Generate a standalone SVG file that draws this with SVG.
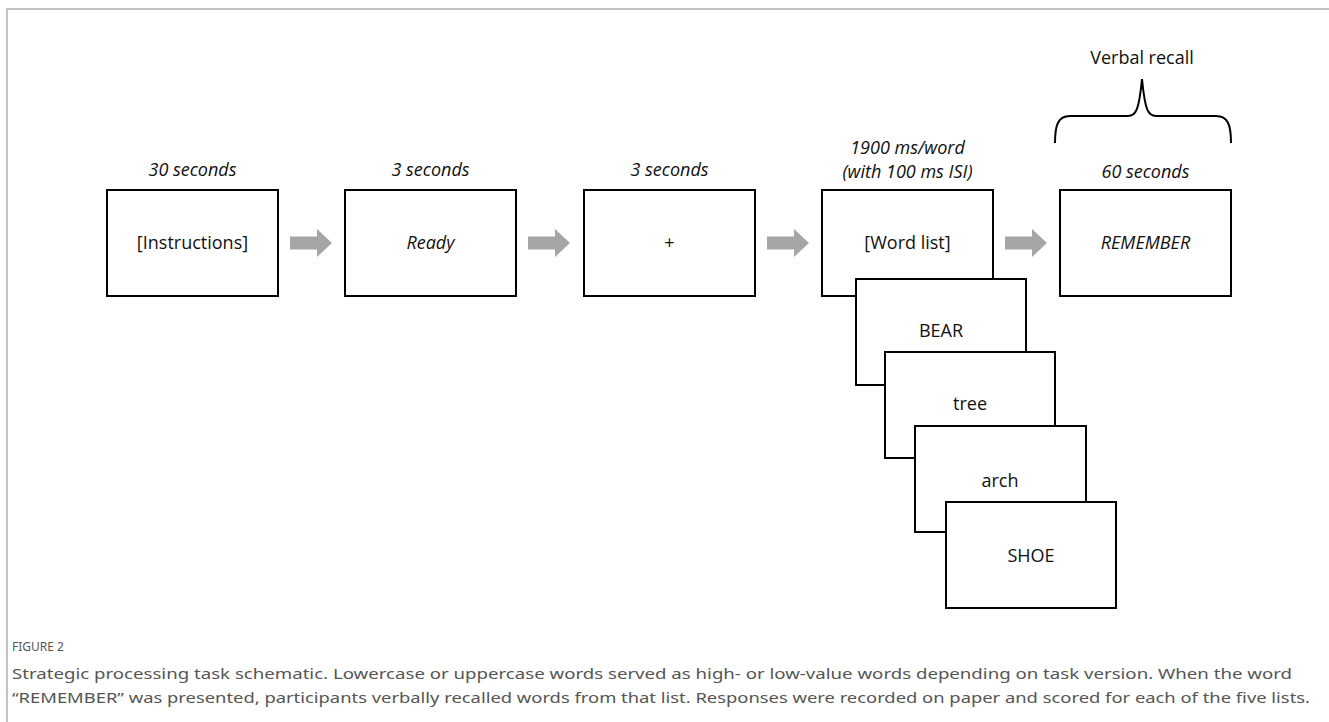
<svg xmlns="http://www.w3.org/2000/svg" width="1329" height="722" viewBox="0 0 1329 722">
<style>
.box{fill:#fff;stroke:#000;stroke-width:2}
.t{font-family:"Open Sans","Noto Sans",sans-serif;font-size:18px;fill:#111;text-anchor:middle}
.i{font-style:italic}
.arrow{fill:#a6a6a6}
.cap{font-family:"Noto Sans","Liberation Sans",sans-serif;fill:#555}
</style>
<rect width="1329" height="722" fill="#fff"/>
<path d="M7,722 V9 H1329" fill="none" stroke="#b0b0b0" stroke-width="1.5"/>
<defs>
<path id="arr" d="M0,-6.5 H27 V-14 L42,0 L27,14 V6.5 H0 Z"/>
</defs>
<g id="connectors">
<use href="#arr" class="arrow" x="290" y="243"/>
<use href="#arr" class="arrow" x="528" y="243"/>
<use href="#arr" class="arrow" x="767" y="243"/>
<use href="#arr" class="arrow" x="1005" y="243"/>
</g>
<g id="instructions">
<text class="t i" x="192.5" y="176">30 seconds</text>
<rect class="box" x="107" y="190" width="171" height="106"/>
<text class="t" x="192.5" y="249">[Instructions]</text>
</g>
<g id="ready">
<text class="t i" x="430.5" y="176">3 seconds</text>
<rect class="box" x="345" y="190" width="171" height="106"/>
<text class="t i" x="430.5" y="249">Ready</text>
</g>
<g id="fixation">
<text class="t i" x="669.5" y="176">3 seconds</text>
<rect class="box" x="584" y="190" width="171" height="106"/>
<text class="t" x="669.5" y="249">+</text>
</g>
<g id="wordlist">
<text class="t i" x="907.5" y="154">1900 ms/word</text>
<text class="t i" x="907.5" y="178">(with 100 ms ISI)</text>
<rect class="box" x="822" y="190" width="171" height="106"/>
<text class="t" x="907.5" y="249">[Word list]</text>
</g>
<g id="bear">
<rect class="box" x="856" y="279" width="170" height="106"/>
<text class="t" x="941" y="337">BEAR</text>
</g>
<g id="tree">
<rect class="box" x="885" y="352" width="170" height="106"/>
<text class="t" x="970" y="410">tree</text>
</g>
<g id="arch">
<rect class="box" x="915" y="426" width="171" height="106"/>
<text class="t" x="1000" y="487">arch</text>
</g>
<g id="shoe">
<rect class="box" x="946" y="502" width="170" height="106"/>
<text class="t" x="1031" y="562">SHOE</text>
</g>
<g id="remember">
<text class="t i" x="1145.5" y="178">60 seconds</text>
<rect class="box" x="1060" y="190" width="171" height="106"/>
<text class="t i" x="1145.5" y="249">REMEMBER</text>
</g>
<g id="verbal-recall">
<text class="t" x="1142" y="64">Verbal recall</text>
<path d="M1055,143 C1055,125 1058,116 1070,116 H1128 C1136,116 1139,110 1142,79 C1145,110 1148,116 1156,116 H1216 C1228,116 1231,125 1231,143" fill="none" stroke="#000" stroke-width="2"/>
</g>
<g id="caption">
<text class="cap" x="12" y="651" font-size="12">FIGURE 2</text>
<text class="cap" x="12" y="679" font-size="15" textLength="1280" lengthAdjust="spacingAndGlyphs">Strategic processing task schematic. Lowercase or uppercase words served as high- or low-value words depending on task version. When the word</text>
<text class="cap" x="12" y="703" font-size="15" textLength="1298" lengthAdjust="spacingAndGlyphs">“REMEMBER” was presented, participants verbally recalled words from that list. Responses were recorded on paper and scored for each of the five lists.</text>
</g>
</svg>
